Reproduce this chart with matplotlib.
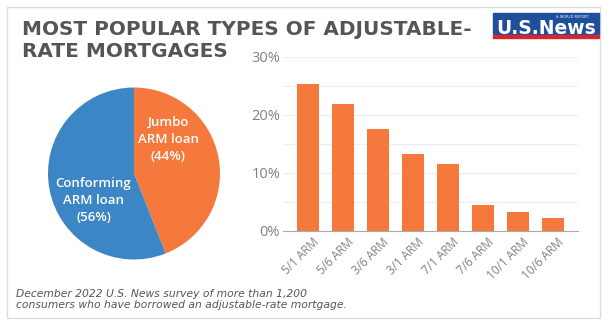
import matplotlib
matplotlib.use('Agg')
import matplotlib.pyplot as plt
import matplotlib.patches as mpatches
import matplotlib.transforms as mtransforms
from matplotlib.ticker import FuncFormatter, MultipleLocator

# ------------------------------------------------------------------ #
# Data
# ------------------------------------------------------------------ #
title_lines = ['MOST POPULAR TYPES OF ADJUSTABLE-', 'RATE MORTGAGES']
note_lines = ['December 2022 U.S. News survey of more than 1,200',
              'consumers who have borrowed an adjustable-rate mortgage.']

pie_labels = ['Jumbo\nARM loan\n(44%)', 'Conforming\nARM loan\n(56%)']
pie_values = [44, 56]

arm_types = ['5/1 ARM', '5/6 ARM', '3/6 ARM', '3/1 ARM',
             '7/1 ARM', '7/6 ARM', '10/1 ARM', '10/6 ARM']
arm_share = [25.3, 21.9, 17.6, 13.2, 11.5, 4.4, 3.2, 2.2]

ORANGE = '#f5793d'
BLUE = '#3d86c6'
GREY_TXT = '#808080'
FONT = 'Open Sans'

W, H = 609, 326
fig = plt.figure(figsize=(W / 100, H / 100), dpi=100)

def fx(px):
    return px / W

def fy(py):
    return 1 - py / H

# frame around the card
fig.patches.append(mpatches.Rectangle((fx(7), fy(318)), fx(593), 311 / H,
                                      transform=fig.transFigure, fill=False,
                                      edgecolor='#dddddd', linewidth=1.0))

# title (one text per line to pin the line positions)
for line, yy in zip(title_lines, [27.5, 49.5]):
    fig.text(fx(22), fy(yy), line, family='DejaVu Sans', fontweight='bold',
             fontsize=14.4, color='#555555', va='center_baseline', ha='left')

# logo
fig.patches.append(mpatches.Rectangle((fx(493), fy(34)), fx(106), 21 / H,
                                      transform=fig.transFigure, color='#1f4e9c'))
fig.patches.append(mpatches.Rectangle((fx(493), fy(38)), fx(106), 3 / H,
                                      transform=fig.transFigure, color='#d6262e'))
fig.text(fx(546), fy(26), 'U.S.News', family='DejaVu Sans', fontweight='bold',
         fontsize=13.5, color='white', ha='center', va='center_baseline')
fig.text(fx(588), fy(16.5), '& WORLD REPORT', family='DejaVu Sans',
         fontsize=2.5, color='white', ha='right', va='center')

# ------------------------------------------------------------------ #
# Pie
# ------------------------------------------------------------------ #
ax_pie = fig.add_axes([fx(48), fy(259.5), fx(172), 172 / H])
ax_pie.pie(pie_values, colors=[ORANGE, BLUE], startangle=90, counterclock=False,
           wedgeprops=dict(linewidth=0))
ax_pie.set_aspect('equal')
ax_pie.set_xlim(-1, 1)
ax_pie.set_ylim(-1, 1)
ax_pie.text(0.40, 0.40, pie_labels[0], family=FONT, fontweight='semibold',
            fontsize=9.5, color='white', ha='center', va='center', linespacing=1.4)
ax_pie.text(-0.47, -0.31, pie_labels[1], family=FONT, fontweight='semibold',
            fontsize=9.5, color='white', ha='center', va='center', linespacing=1.4)

# ------------------------------------------------------------------ #
# Bars
# ------------------------------------------------------------------ #
ax = fig.add_axes([fx(283), fy(230.7), fx(295), (230.7 - 57) / H])
x = range(len(arm_types))
ax.bar(x, arm_share, width=0.64, color=ORANGE, zorder=3)
ax.set_xlim(-0.71, len(arm_types) - 0.29)
ax.set_ylim(0, 30)
ax.yaxis.set_major_locator(MultipleLocator(10))
ax.yaxis.set_minor_locator(MultipleLocator(5))
ax.yaxis.set_major_formatter(FuncFormatter(lambda v, p: f'{v:.0f}%'))
ax.grid(axis='y', which='both', color='#eeeeee', linewidth=0.8, zorder=0)
for s in ['top', 'right', 'left']:
    ax.spines[s].set_visible(False)
ax.spines['bottom'].set_color('#aaaaaa')
ax.tick_params(axis='both', which='both', length=0, colors=GREY_TXT)
ax.tick_params(axis='y', pad=2)
ax.set_xticks(list(x))
ax.set_xticklabels(arm_types, rotation=45, ha='right', rotation_mode='anchor')
# nudge the rotated labels a bit to the right, like the original
shift = mtransforms.ScaledTranslation(4 / 100, 0, fig.dpi_scale_trans)
for lbl in ax.get_xticklabels():
    lbl.set_family(FONT)
    lbl.set_fontsize(8.5)
    lbl.set_transform(lbl.get_transform() + shift)
for lbl in ax.get_yticklabels():
    lbl.set_family(FONT)
    lbl.set_fontsize(10.5)

# footnote
for line, yy in zip(note_lines, [293, 303.5]):
    fig.text(fx(16), fy(yy), line, family='DejaVu Sans', style='italic',
             fontsize=7.75, color='#555555', ha='left', va='center_baseline')

fig.savefig('out.png', dpi=100)
